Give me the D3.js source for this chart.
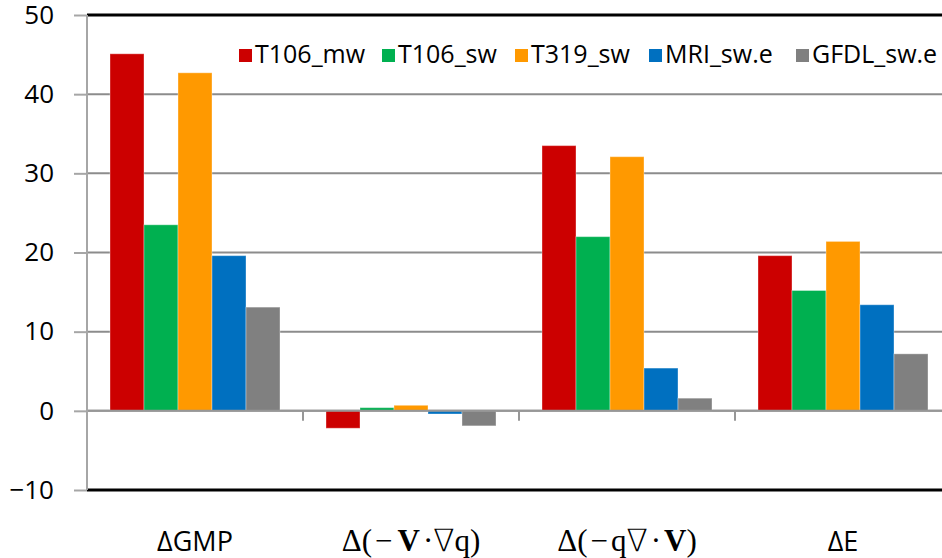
<!DOCTYPE html>
<html>
<head>
<meta charset="utf-8">
<script src="https://cdn.jsdelivr.net/npm/d3@7"></script>
<style>
  body { margin: 0; background: #fff; }
  svg { display: block; }
</style>
</head>
<body>
<div id="chart"></div>
<script>
// chart values
var categories = ["GMP", "VQ", "QDIV", "E"];
var seriesNames = ["T106_mw", "T106_sw", "T319_sw", "MRI_sw.e", "GFDL_sw.e"];
var seriesColors = ["#cc0000", "#00b050", "#ff9900", "#0070c0", "#808080"];
var T106_mw = [45.1, -2.2, 33.5, 19.6];
var T106_sw = [23.5, 0.4, 22.0, 15.2];
var T319_sw = [42.7, 0.7, 32.1, 21.4];
var MRI_sw = [19.6, -0.4, 5.4, 13.4];
var GFDL_sw = [13.1, -1.9, 1.6, 7.2];
var yTicks = [-10, 0, 10, 20, 30, 40, 50];

var values = [T106_mw, T106_sw, T319_sw, MRI_sw, GFDL_sw];

var WIDTH = 942, HEIGHT = 558;
var margin = { left: 87, top: 15 };
var plotW = 864, plotH = 475;

var svg = d3.select("#chart").append("svg")
    .attr("width", WIDTH)
    .attr("height", HEIGHT);

var g = svg.append("g")
    .attr("transform", "translate(" + margin.left + "," + margin.top + ")");

var x0 = d3.scaleBand().domain(categories).range([0, plotW]);
var x1 = d3.scaleBand().domain(seriesNames).range([23, 193]);
var y = d3.scaleLinear().domain([-10, 50]).range([plotH, 0]);
var color = d3.scaleOrdinal().domain(seriesNames).range(seriesColors);

// gridlines
g.append("g").selectAll("line")
    .data(yTicks.filter(function(t) { return t > -10 && t < 50; }))
    .enter().append("line")
    .attr("x1", 0).attr("x2", plotW)
    .attr("y1", function(d) { return y(d); })
    .attr("y2", function(d) { return y(d); })
    .attr("stroke", "#8c8c8c")
    .attr("stroke-width", 2);

// bars
var rows = [];
categories.forEach(function(c, i) {
    seriesNames.forEach(function(s, j) {
        rows.push({ cat: c, series: s, value: values[j][i] });
    });
});

g.append("g").selectAll("rect")
    .data(rows)
    .enter().append("rect")
    .attr("x", function(d) { return x0(d.cat) + x1(d.series); })
    .attr("width", x1.bandwidth())
    .attr("y", function(d) { return y(Math.max(0, d.value)); })
    .attr("height", function(d) { return Math.abs(y(d.value) - y(0)); })
    .attr("fill", function(d) { return color(d.series); })
    .attr("stroke", "#fff")
    .attr("stroke-opacity", 0.35)
    .attr("stroke-width", 1);

// zero line and category ticks
g.append("line")
    .attr("x1", 0).attr("x2", plotW)
    .attr("y1", y(0)).attr("y2", y(0))
    .attr("stroke", "#979797")
    .attr("stroke-width", 2);

g.append("g").selectAll("line")
    .data(categories.slice(1))
    .enter().append("line")
    .attr("x1", function(d) { return x0(d); })
    .attr("x2", function(d) { return x0(d); })
    .attr("y1", y(0)).attr("y2", y(0) + 10)
    .attr("stroke", "#979797")
    .attr("stroke-width", 2);

// top and bottom border
g.append("line")
    .attr("x1", 0).attr("x2", plotW)
    .attr("y1", y(50)).attr("y2", y(50))
    .attr("stroke", "#000").attr("stroke-width", 3);
g.append("line")
    .attr("x1", 0).attr("x2", plotW)
    .attr("y1", y(-10)).attr("y2", y(-10))
    .attr("stroke", "#000").attr("stroke-width", 3);

// y axis
var yAxis = d3.axisLeft(y).tickValues(yTicks).tickSize(13).tickPadding(20)
    .tickFormat(d3.format("d"));
var ya = g.append("g").attr("class", "y-axis").call(yAxis);
ya.select(".domain").attr("stroke", "#a6a6a6").attr("stroke-width", 2)
    .attr("d", "M0," + y(50) + "V" + y(-10));
ya.selectAll(".tick line").attr("stroke", "#a6a6a6").attr("stroke-width", 2);
ya.selectAll(".tick text")
    .attr("fill", "#000")
    .style("font-family", "'Open Sans', sans-serif")
    .style("font-size", "26px");

// category labels
var labelY = 551;
function catText(c) {
    return svg.append("text")
        .attr("x", margin.left + x0(c) + x0.bandwidth() / 2)
        .attr("y", labelY)
        .attr("text-anchor", "middle");
}
catText("GMP").text("\u0394GMP")
    .style("font-family", "'Open Sans', sans-serif").style("font-size", "27px");
catText("E").text("\u0394E")
    .style("font-family", "'Open Sans', sans-serif").style("font-size", "27px");

function nabla(t) {
    t.append("tspan")
        .style("font-family", "'DejaVu Sans', sans-serif")
        .style("font-weight", "200")
        .style("font-size", "31px")
        .text("\u2207");
}

var t2 = catText("VQ").style("font-family", "'Liberation Serif', serif").style("font-size", "31px");
t2.append("tspan").text("\u0394(");
t2.append("tspan").attr("dx", 3).text("\u2212");
t2.append("tspan").attr("dx", 5).style("font-weight", "bold").text("V");
t2.append("tspan").attr("dx", 3).text("\u00b7");
t2.append("tspan").attr("dx", 3).text("");
nabla(t2);
t2.append("tspan").text("q)");

var t3 = catText("QDIV").style("font-family", "'Liberation Serif', serif").style("font-size", "31px");
t3.append("tspan").text("\u0394(");
t3.append("tspan").attr("dx", 3).text("\u2212");
t3.append("tspan").attr("dx", 3).text("q");
nabla(t3);
t3.append("tspan").attr("dx", 3).text("\u00b7");
t3.append("tspan").attr("dx", 3).style("font-weight", "bold").text("V");
t3.append("tspan").text(")");

// legend
var legendX = [239, 382, 515, 649, 796];
var legend = svg.append("g").selectAll("g")
    .data(seriesNames)
    .enter().append("g")
    .attr("transform", function(d, i) { return "translate(" + legendX[i] + ",49)"; });
legend.append("rect")
    .attr("width", 13).attr("height", 13)
    .attr("fill", function(d) { return color(d); });
legend.append("text")
    .attr("x", 16).attr("y", 14)
    .style("font-family", "'Open Sans', sans-serif")
    .style("font-size", "25px")
    .text(function(d) { return d; });
</script>
</body>
</html>
